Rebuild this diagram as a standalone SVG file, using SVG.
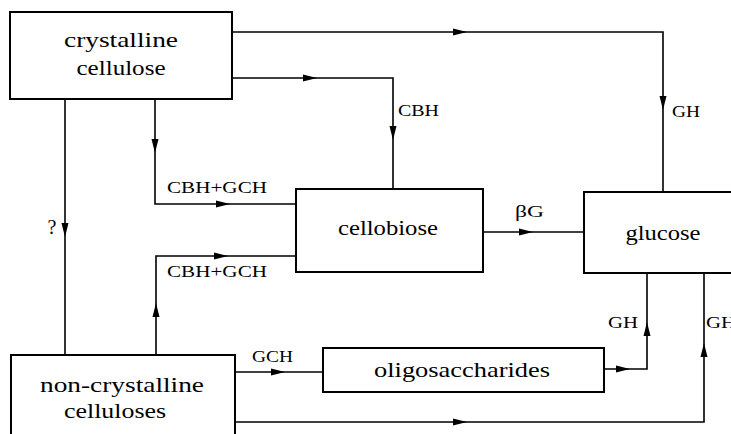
<svg xmlns="http://www.w3.org/2000/svg" xmlns:xlink="http://www.w3.org/1999/xlink" width="731" height="434" viewBox="0 0 731 434">
<style>
.box{fill:#fff;stroke:#000;stroke-width:2}
.ln{fill:none;stroke:#000;stroke-width:1.6}
.t{font-family:"Liberation Serif","Times New Roman",serif;font-size:22px;fill:#000;text-anchor:middle}
.l{font-family:"Liberation Serif","Times New Roman",serif;font-size:17px;fill:#000}
</style>
<defs>
<path id="ah" d="M0,0 L-14,-3.5 L-14,3.5 Z" fill="#000"/>
</defs>
<rect width="731" height="434" fill="#fff"/>
<g id="connectors">
<path class="ln" d="M232,32 H663 V192"/>
<path class="ln" d="M232,78 H393 V189"/>
<path class="ln" d="M155,99 V204 H296"/>
<path class="ln" d="M65,99 V355"/>
<path class="ln" d="M156,355 V256 H296"/>
<path class="ln" d="M483,232 H584"/>
<path class="ln" d="M235,372 H323"/>
<path class="ln" d="M604,369 H647 V273"/>
<path class="ln" d="M235,422 H704 V273"/>
<use xlink:href="#ah" transform="translate(467,32)"/>
<use xlink:href="#ah" transform="translate(663,110) rotate(90)"/>
<use xlink:href="#ah" transform="translate(317,78)"/>
<use xlink:href="#ah" transform="translate(393,140) rotate(90)"/>
<use xlink:href="#ah" transform="translate(155,153) rotate(90)"/>
<use xlink:href="#ah" transform="translate(230,204)"/>
<use xlink:href="#ah" transform="translate(65,237) rotate(90)"/>
<use xlink:href="#ah" transform="translate(156,303) rotate(-90)"/>
<use xlink:href="#ah" transform="translate(228,256)"/>
<use xlink:href="#ah" transform="translate(533,232)"/>
<use xlink:href="#ah" transform="translate(285,372)"/>
<use xlink:href="#ah" transform="translate(630,369)"/>
<use xlink:href="#ah" transform="translate(647,322) rotate(-90)"/>
<use xlink:href="#ah" transform="translate(467,422)"/>
<use xlink:href="#ah" transform="translate(704,343) rotate(-90)"/>
<text class="l" x="672" y="117" textLength="28" lengthAdjust="spacingAndGlyphs">GH</text>
<text class="l" x="398" y="116" textLength="41" lengthAdjust="spacingAndGlyphs">CBH</text>
<text class="l" x="167" y="193" textLength="100" lengthAdjust="spacingAndGlyphs">CBH+GCH</text>
<text class="l" x="167" y="277" textLength="100" lengthAdjust="spacingAndGlyphs">CBH+GCH</text>
<text class="l" x="52" y="234" text-anchor="middle" style="font-size:20px">?</text>
<text class="l" x="515" y="217" textLength="29" lengthAdjust="spacingAndGlyphs">βG</text>
<text class="l" x="252" y="362" textLength="41" lengthAdjust="spacingAndGlyphs">GCH</text>
<text class="l" x="608" y="328" textLength="30" lengthAdjust="spacingAndGlyphs">GH</text>
<text class="l" x="706" y="328" textLength="30" lengthAdjust="spacingAndGlyphs">GH</text>
</g>
<g id="crystalline">
<rect class="box" x="10" y="12" width="222" height="87"/>
<text class="t" x="121" y="47" textLength="114" lengthAdjust="spacingAndGlyphs">crystalline</text>
<text class="t" x="121" y="75" textLength="89" lengthAdjust="spacingAndGlyphs">cellulose</text>
</g>
<g id="noncrystalline">
<rect class="box" x="11" y="355" width="224" height="90"/>
<text class="t" x="122" y="392" textLength="164" lengthAdjust="spacingAndGlyphs">non-crystalline</text>
<text class="t" x="115" y="418" textLength="102" lengthAdjust="spacingAndGlyphs">celluloses</text>
</g>
<g id="cellobiose">
<rect class="box" x="296" y="189" width="187" height="83"/>
<text class="t" x="388" y="235" textLength="100" lengthAdjust="spacingAndGlyphs">cellobiose</text>
</g>
<g id="glucose">
<rect class="box" x="584" y="192" width="160" height="81"/>
<text class="t" x="663" y="240" textLength="75" lengthAdjust="spacingAndGlyphs">glucose</text>
</g>
<g id="oligosaccharides">
<rect class="box" x="323" y="348" width="281" height="44"/>
<text class="t" x="462" y="377" textLength="176" lengthAdjust="spacingAndGlyphs">oligosaccharides</text>
</g>
</svg>
